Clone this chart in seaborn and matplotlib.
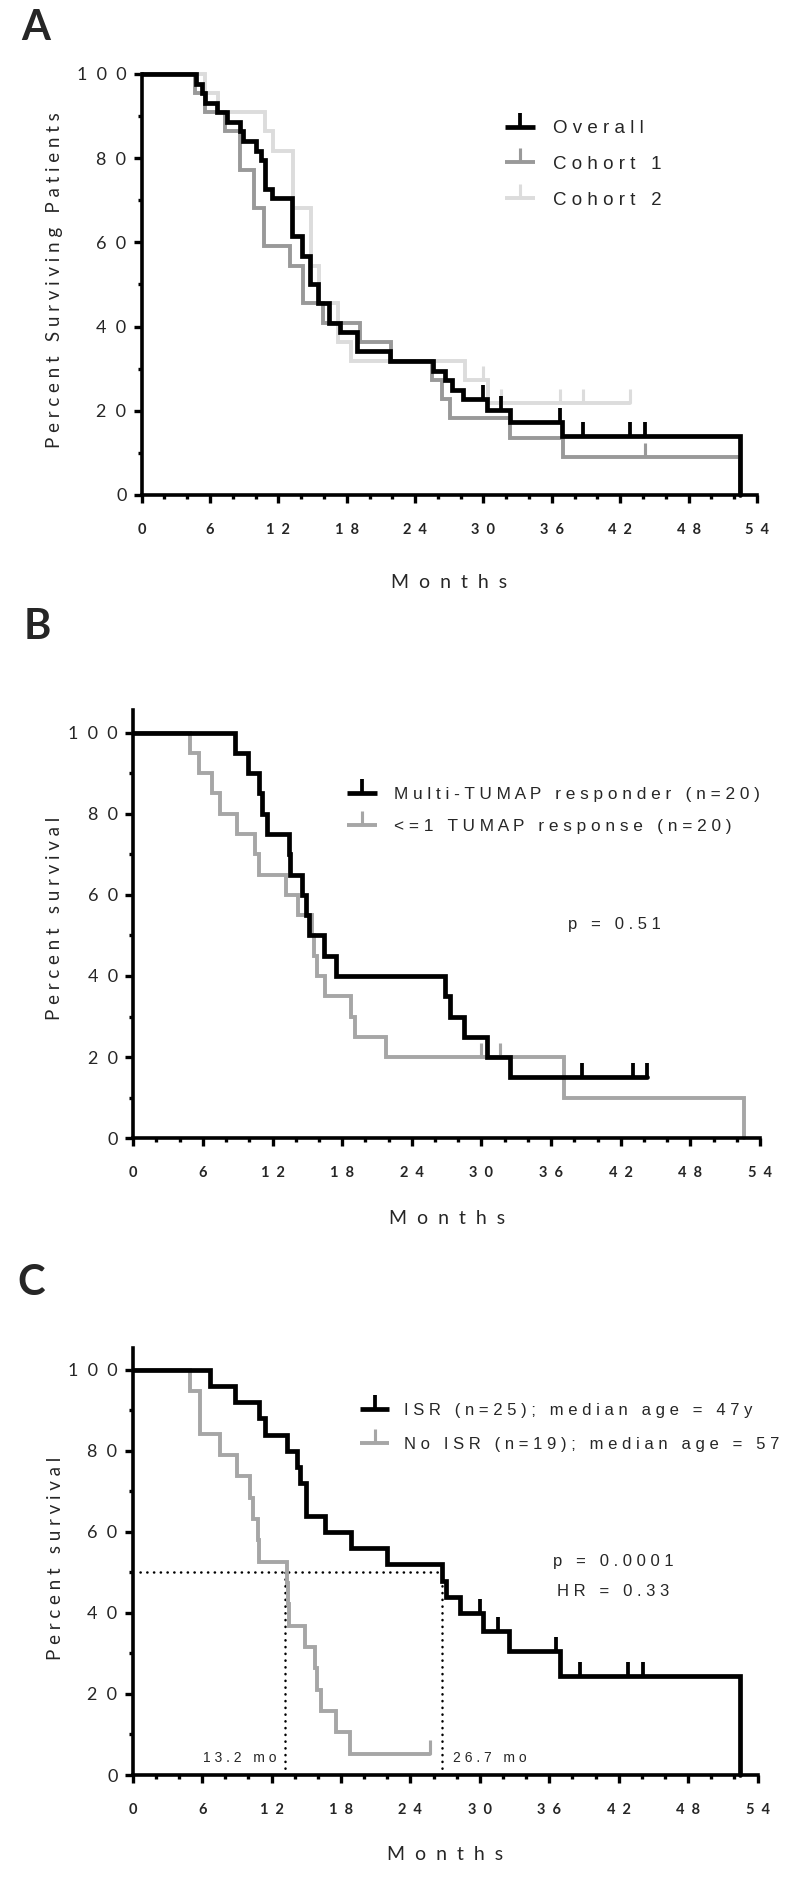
import numpy as np
import pandas as pd
import matplotlib
matplotlib.use("Agg")
import matplotlib.pyplot as plt
import seaborn as sns
from matplotlib.lines import Line2D
from matplotlib.ticker import MultipleLocator

# ---- Panel A: overall / cohort 1 / cohort 2 (Kaplan-Meier steps, % surviving) ----
overall_t = [0, 4.8, 5.3, 5.6, 6.6, 7.5, 8.6, 8.9, 10.0, 10.5, 10.8, 11.4, 13.2, 14.1,
             14.8, 15.5, 16.4, 17.4, 18.9, 21.8, 25.6, 26.6, 27.2, 28.2, 30.3, 32.3, 36.9, 52.5]
overall_s = [100, 97.7, 95.5, 93.2, 90.9, 88.6, 86.4, 84.1, 81.8, 79.5, 72.7, 70.5, 61.4, 56.8,
             50.0, 45.5, 40.9, 38.6, 34.1, 31.8, 29.5, 27.3, 25.0, 22.7, 20.2, 17.3, 13.9, 0]
overall_cens = [30.0, 31.5, 36.7, 38.7, 42.9, 44.2]

cohort1_t = [0, 4.7, 5.6, 7.3, 8.6, 9.9, 10.7, 13.0, 14.2, 15.9, 19.2, 21.9, 25.5, 26.4,
             27.1, 32.3, 37.0, 52.5]
cohort1_s = [100, 95.5, 90.9, 86.4, 77.3, 68.2, 59.1, 54.5, 45.5, 40.9, 36.4, 31.8, 27.3, 22.7,
             18.2, 13.6, 9.1, 0]
cohort1_cens = [44.2]

cohort2_t = [0, 5.6, 6.7, 10.8, 11.5, 13.3, 14.9, 15.6, 17.2, 18.4, 28.4, 30.4]
cohort2_s = [100, 95.5, 90.9, 86.4, 81.8, 68.2, 54.5, 45.5, 36.4, 31.8, 27.3, 21.8]
cohort2_cens = [30.0, 31.5, 36.7, 38.7, 42.9]

# ---- Panel B: TUMAP responders ----
multi_t = [0, 8.8, 9.9, 10.8, 11.1, 11.5, 13.4, 13.5, 14.5, 14.9, 15.1, 16.4, 17.5, 26.9,
           27.3, 28.5, 30.5, 32.5]
multi_s = [100, 95, 90, 85, 80, 75, 70, 65, 60, 55, 50, 45, 40, 35, 30, 25, 20, 15]
multi_cens = [38.7, 43.1, 44.3]

low_t = [0, 4.9, 5.7, 6.75, 7.5, 8.9, 10.5, 10.8, 13.2, 14.2, 15.4, 15.6, 15.8, 16.5, 18.8,
         19.1, 21.8, 37.1, 52.6]
low_s = [100, 95, 90, 85, 80, 75, 70, 65, 60, 55, 50, 45, 40, 35, 30, 25, 20, 10, 0]
low_cens = [30.0, 31.6]

# ---- Panel C: ISR vs no ISR ----
isr_t = [0, 6.7, 8.85, 10.9, 11.4, 13.3, 14.2, 14.5, 15.0, 16.6, 18.9, 22.0, 26.7, 27.1,
         28.3, 30.3, 32.5, 36.9, 52.5]
isr_s = [100, 96, 92, 88, 84, 80, 76, 72, 64, 60, 56, 52, 48, 44, 40, 35.6, 30.5, 24.4, 0]
isr_cens = [30.0, 31.6, 36.6, 38.7, 42.8, 44.1]

noisr_t = [0, 4.96, 5.8, 7.55, 9.0, 10.1, 10.4, 10.8, 10.9, 13.3, 13.4, 13.5, 14.9, 15.75,
           15.9, 16.3, 17.6, 18.8]
noisr_s = [100, 94.7, 84.2, 78.9, 73.7, 68.4, 63.2, 57.9, 52.6, 47.4, 42.1, 36.8, 31.6, 26.3,
           21.1, 15.8, 10.5, 5.3]
noisr_cens = [25.7]

medians = [13.2, 26.7]
x_ticks = list(range(0, 55, 6))
y_ticks = list(range(0, 101, 20))

sns.set_style("ticks")
plt.rcParams["font.family"] = ["Liberation Sans", "DejaVu Sans"]

BLACK = "#000000"
GREY = "#999999"
LIGHT = "#dcdcdc"
MID = "#a6a6a6"
LW_K = 3.4
LW_G = 2.8


def spaced(s, sep=" "):
    return sep.join(s)


def km(ax, t, s, cens, color, lw):
    t = list(t)
    s = list(s)
    if cens and max(cens) > t[-1]:
        t.append(max(cens))
        s.append(s[-1])
    df = pd.DataFrame({"t": t, "s": s})
    sns.lineplot(data=df, x="t", y="s", ax=ax, color=color, lw=lw, estimator=None,
                 drawstyle="steps-post", clip_on=False, solid_joinstyle="miter")
    if cens:
        idx = np.searchsorted(t, cens, side="right") - 1
        lv = np.asarray(s)[idx]
        ax.plot(cens, lv, ls="none", marker=2, ms=10, mew=lw * 0.8, color=color, clip_on=False)


def style(ax, ytop, ylabel, ylab_xy, xlab_y):
    ax.set_xlim(0, 54)
    ax.set_ylim(0, ytop)
    ax.set_xticks(x_ticks)
    ax.set_xticklabels([spaced(str(v), "  ") for v in x_ticks], fontweight="bold",
                       fontsize=10.5, family="Lato")
    ax.set_yticks(y_ticks)
    ax.set_yticklabels([spaced(str(v), "  ") for v in y_ticks], fontsize=13, family="Lato")
    ax.xaxis.set_minor_locator(MultipleLocator(2))
    ax.yaxis.set_minor_locator(MultipleLocator(10))
    ax.tick_params(which="major", length=6, width=2.4, color="black")
    ax.tick_params(which="minor", length=3, width=2.4, color="black")
    ax.tick_params(axis="x", which="major", pad=14)
    ax.tick_params(axis="y", which="major", pad=5)
    for side in ["top", "right"]:
        ax.spines[side].set_visible(False)
    for side in ["left", "bottom"]:
        ax.spines[side].set_linewidth(2.6)
        ax.spines[side].set_color("black")
        ax.spines[side].set_capstyle("projecting")
    ax.set_ylabel(spaced(ylabel), fontsize=13.5, family="Lato")
    ax.yaxis.label.set_va("center")
    ax.yaxis.set_label_coords(*ylab_xy)
    ax.set_xlabel(spaced("Months", "  "), fontsize=14, family="Lato")
    ax.xaxis.label.set_va("center")
    ax.xaxis.set_label_coords(0.5, xlab_y)
    ax.set_facecolor("white")


def handle(color, lw):
    return Line2D([0], [0], color=color, lw=lw, marker=2, ms=10, mew=lw * 0.8,
                  solid_capstyle="butt")


fig = plt.figure(figsize=(8, 18.77), dpi=100)
fig.patch.set_facecolor("white")

# ---- A ----
axA = fig.add_axes([0.1771, 0.7363, 0.769, 0.2243])
km(axA, cohort2_t, cohort2_s, cohort2_cens, LIGHT, LW_G)
km(axA, cohort1_t, cohort1_s, cohort1_cens, GREY, LW_G)
km(axA, overall_t, overall_s, overall_cens, BLACK, LW_K)
style(axA, 100, "Percent Surviving Patients", (-0.1425, 0.511), -0.209)
axA.legend(handles=[handle(BLACK, LW_K), handle(GREY, LW_G), handle(LIGHT, LW_G)],
           labels=[spaced("Overall"), spaced("Cohort 1"), spaced("Cohort 2")],
           loc="upper left", bbox_to_anchor=(505 / 800, 1 - 120 / 1877),
           bbox_transform=fig.transFigure, frameon=False, borderpad=0, borderaxespad=0,
           prop={"family": "Liberation Sans", "size": 13.5}, handlelength=1.6,
           handletextpad=0.95, labelspacing=1.0, numpoints=1)

# ---- B ----
axB = fig.add_axes([0.1666, 0.3936, 0.7834, 0.2282])
km(axB, low_t, low_s, low_cens, MID, LW_G)
km(axB, multi_t, multi_s, multi_cens, BLACK, LW_K)
style(axB, 105.6, "Percent survival", (-0.125, 0.514), -0.188)
axB.legend(handles=[handle(BLACK, LW_K), handle(MID, LW_G)],
           labels=[spaced("Multi-TUMAP responder (n=20)"), spaced("<=1 TUMAP response (n=20)")],
           loc="upper left", bbox_to_anchor=(347 / 800, 1 - 787 / 1877),
           bbox_transform=fig.transFigure, frameon=False, borderpad=0, borderaxespad=0,
           prop={"family": "Liberation Sans", "size": 12.4}, handlelength=1.75,
           handletextpad=1.0, labelspacing=1.0, numpoints=1)
axB.text(41.5, 52.6, spaced("p = 0.51"), fontsize=12, ha="center", va="center")

# ---- C ----
axC = fig.add_axes([0.1659, 0.05434, 0.781, 0.2275])
# median guide lines
axC.plot([0.6, medians[1]], [50, 50], color="black", lw=1.8, ls=(0, (0.1, 2.6)),
         dash_capstyle="round")
for m in medians:
    axC.plot([m, m], [0, 50], color="black", lw=1.8, ls=(0, (0.1, 2.6)),
             dash_capstyle="round")
km(axC, noisr_t, noisr_s, noisr_cens, MID, LW_G)
km(axC, isr_t, isr_s, isr_cens, BLACK, LW_K)
style(axC, 105.4, "Percent survival", (-0.124, 0.508), -0.185)
axC.legend(handles=[handle(BLACK, LW_K), handle(MID, LW_G)],
           labels=[spaced("ISR (n=25); median age = 47y"),
                   spaced("No ISR (n=19); median age = 57")],
           loc="upper left", bbox_to_anchor=(360 / 800, 1 - 1403 / 1877),
           bbox_transform=fig.transFigure, frameon=False, borderpad=0, borderaxespad=0,
           prop={"family": "Liberation Sans", "size": 12.0}, handlelength=1.75,
           handletextpad=0.9, labelspacing=1.15, numpoints=1)
axC.text(41.5, 52.6, spaced("p = 0.0001"), fontsize=12, ha="center", va="center")
axC.text(41.5, 45.2, spaced("HR = 0.33"), fontsize=12, ha="center", va="center")
axC.text(medians[0] - 0.8, 4.2, spaced("13.2 mo"), fontsize=10, ha="right", va="center")
axC.text(medians[1] + 1.0, 4.2, spaced("26.7 mo"), fontsize=10, ha="left", va="center")

# panel letters
for letter, (px, py) in zip("ABC", [(36, 28), (37, 627), (31, 1283)]):
    fig.text(px / 800, 1 - py / 1877, letter, fontsize=30, fontweight="bold",
             family="Lato", ha="center", va="center")

fig.savefig("out.png", dpi=100, facecolor="white")
